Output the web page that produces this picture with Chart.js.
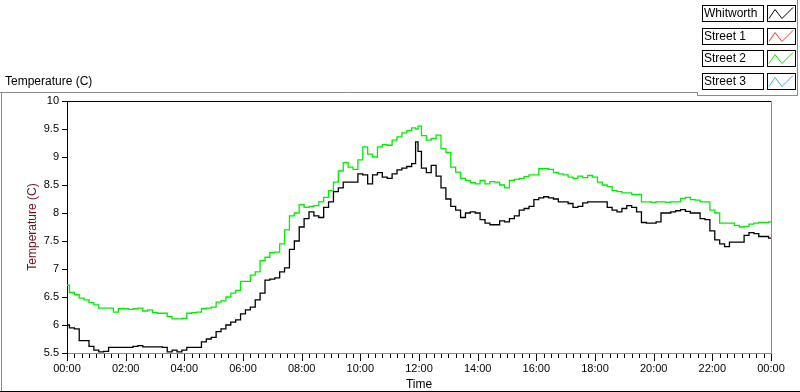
<!DOCTYPE html>
<html>
<head>
<meta charset="utf-8">
<script src="https://cdn.jsdelivr.net/npm/chart.js@4.4.1/dist/chart.umd.min.js"></script>
<style>
  html, body { margin: 0; padding: 0; background: #fff; }
  #wrap { width: 800px; height: 392px; }
</style>
</head>
<body>
<div id="wrap"><canvas id="c" width="800" height="392"></canvas></div>
<script>
// Time of day in minutes after midnight
const times = [0,10,20,30,40,50,60,70,80,90,100,110,120,130,140,150,160,170,180,190,200,210,220,230,240,250,260,270,280,290,300,310,320,330,340,350,360,370,380,390,400,410,420,430,440,450,460,470,480,490,500,510,520,530,540,550,560,570,580,590,600,610,620,630,640,650,660,670,680,690,700,710,716,720,730,740,750,760,770,780,790,800,810,820,830,840,850,860,870,880,890,900,910,920,930,940,950,960,970,980,990,1000,1010,1020,1030,1040,1050,1060,1070,1080,1090,1100,1110,1120,1130,1140,1150,1160,1170,1180,1190,1200,1210,1220,1230,1240,1250,1260,1270,1280,1290,1300,1310,1320,1330,1340,1350,1360,1370,1380,1390,1400,1410,1420,1430,1440];

const whitworth = [6.0,5.95,5.93,5.72,5.72,5.62,5.55,5.52,5.53,5.6,5.6,5.6,5.6,5.6,5.62,5.63,5.61,5.61,5.61,5.61,5.6,5.52,5.55,5.52,5.55,5.6,5.6,5.6,5.7,5.75,5.78,5.88,5.93,6.0,6.05,6.09,6.2,6.27,6.32,6.45,6.57,6.8,6.82,6.84,6.95,7.02,7.35,7.5,7.75,7.9,8.02,7.95,7.92,8.1,8.2,8.38,8.45,8.55,8.55,8.55,8.7,8.68,8.52,8.68,8.72,8.64,8.62,8.7,8.77,8.8,8.83,8.88,9.27,9.1,8.8,8.72,8.85,8.66,8.45,8.25,8.12,8.05,7.92,8.0,8.02,8.0,7.88,7.82,7.79,7.79,7.86,7.84,7.9,7.95,8.05,8.08,8.12,8.24,8.27,8.29,8.27,8.25,8.2,8.2,8.17,8.1,8.12,8.18,8.2,8.2,8.2,8.2,8.1,8.05,8.02,8.08,8.13,8.1,8.02,7.83,7.82,7.82,7.84,8.0,8.0,8.02,8.04,8.06,8.03,8.0,8.0,7.9,7.88,7.68,7.52,7.45,7.4,7.48,7.48,7.48,7.6,7.65,7.63,7.58,7.58,7.55];

const street1 = [];

const street2 = [6.71,6.58,6.54,6.48,6.45,6.4,6.36,6.3,6.3,6.3,6.23,6.29,6.29,6.28,6.29,6.3,6.25,6.27,6.22,6.21,6.21,6.15,6.11,6.11,6.12,6.21,6.22,6.23,6.29,6.3,6.32,6.41,6.43,6.5,6.57,6.62,6.78,6.78,6.89,6.95,7.15,7.21,7.29,7.3,7.45,7.7,7.95,8.0,8.15,8.1,8.12,8.13,8.2,8.28,8.4,8.55,8.75,8.9,8.82,8.78,8.95,9.18,9.05,9.0,9.18,9.22,9.21,9.3,9.36,9.43,9.47,9.52,9.5,9.55,9.38,9.3,9.33,9.39,9.15,9.08,8.82,8.73,8.62,8.58,8.54,8.52,8.58,8.52,8.56,8.55,8.5,8.45,8.58,8.6,8.62,8.65,8.68,8.68,8.79,8.79,8.78,8.72,8.7,8.68,8.64,8.62,8.66,8.63,8.67,8.64,8.55,8.5,8.47,8.4,8.38,8.36,8.36,8.33,8.33,8.2,8.2,8.19,8.2,8.2,8.19,8.2,8.2,8.26,8.28,8.24,8.23,8.2,8.2,8.05,8.0,7.82,7.82,7.82,7.78,7.75,7.76,7.8,7.82,7.83,7.83,7.84];

const street3 = [];

const seriesNames = ['Whitworth', 'Street 1', 'Street 2', 'Street 3'];
const seriesColors = ['#000000', '#ff3333', '#00ee00', '#33aaff'];
const seriesValues = [whitworth, street1, street2, street3];

const yTickValues = [5.5, 6, 6.5, 7, 7.5, 8, 8.5, 9, 9.5, 10];
const xMajorStep = 120;   // minutes between labelled ticks
const xMinorStep = 15;    // minutes between minor ticks

function fmtTime(m) {
  const h = Math.floor((m % 1440) / 60);
  const mm = Math.round(m % 60);
  return String(h).padStart(2, '0') + ':' + String(mm).padStart(2, '0');
}

const FONT = 'Liberation Sans, Arial, sans-serif';

const datasets = seriesNames.map((name, i) => ({
  label: name,
  data: seriesValues[i].map((v, k) => ({ x: times[k], y: v })),
  borderColor: seriesColors[i],
  backgroundColor: seriesColors[i],
  borderWidth: 1.3,
  pointRadius: 0,
  stepped: 'middle',
  fill: false
}));

const framePlugin = {
  id: 'frame',
  beforeDraw(chart) {
    const ctx = chart.ctx;
    ctx.save();
    ctx.fillStyle = '#fff';
    ctx.fillRect(0, 0, chart.width, chart.height);
    ctx.restore();
  },
  afterDraw(chart) {
    const ctx = chart.ctx;
    const a = chart.chartArea;
    const xs = chart.scales.x;
    ctx.save();
    // outer panel frame
    ctx.strokeStyle = '#8a8a8a';
    ctx.lineWidth = 1;
    ctx.beginPath();
    ctx.moveTo(0, 92.5); ctx.lineTo(697, 92.5);
    ctx.moveTo(1.5, 92); ctx.lineTo(1.5, 392);
    ctx.stroke();
    ctx.strokeStyle = '#000';
    ctx.beginPath();
    ctx.moveTo(0, 391.5); ctx.lineTo(800, 391.5);
    ctx.stroke();
    // legend panel frame
    ctx.strokeStyle = '#8a8a8a';
    ctx.beginPath();
    ctx.moveTo(697, 95.5); ctx.lineTo(797.5, 95.5);
    ctx.moveTo(797.5, 0); ctx.lineTo(797.5, 96);
    ctx.moveTo(697.5, 92); ctx.lineTo(697.5, 96);
    ctx.stroke();
    // plot frame: top black, right grey
    ctx.strokeStyle = '#000';
    ctx.beginPath();
    ctx.moveTo(a.left, a.top + 0.5); ctx.lineTo(a.right, a.top + 0.5);
    ctx.stroke();
    ctx.strokeStyle = '#8a8a8a';
    ctx.beginPath();
    ctx.moveTo(a.right + 0.5, a.top); ctx.lineTo(a.right + 0.5, a.bottom);
    ctx.stroke();
    // x ticks
    ctx.strokeStyle = '#000';
    ctx.beginPath();
    for (let m = xs.min; m <= xs.max; m += xMinorStep) {
      const px = Math.round(xs.getPixelForValue(m)) + 0.5;
      const len = (m % xMajorStep === 0) ? 7 : 4;
      ctx.moveTo(px, a.bottom + 1); ctx.lineTo(px, a.bottom + 1 + len);
    }
    ctx.stroke();
    // top-left label
    ctx.fillStyle = '#000';
    ctx.font = '12px ' + FONT;
    ctx.textBaseline = 'middle';
    ctx.textAlign = 'left';
    ctx.fillText('Temperature (C)', 5, 82);
    ctx.restore();
  }
};

const legendPlugin = {
  id: 'boxLegend',
  afterDraw(chart) {
    const ctx = chart.ctx;
    ctx.save();
    chart.data.datasets.forEach((ds, i) => {
      const top = Math.round(5 + i * 22.7) + 0.5;
      const h = 16;
      ctx.fillStyle = '#fff';
      ctx.strokeStyle = '#000';
      ctx.lineWidth = 1;
      ctx.fillRect(702, top, 61, h);
      ctx.strokeRect(702.5, top, 61, h);
      ctx.strokeRect(767.5, top, 28, h);
      ctx.fillStyle = '#000';
      ctx.font = '12px ' + FONT;
      ctx.textBaseline = 'middle';
      ctx.textAlign = 'left';
      ctx.fillText(ds.label, 704, top + h / 2 + 0.5);
      ctx.strokeStyle = ds.borderColor;
      ctx.beginPath();
      ctx.moveTo(769, top + 13);
      ctx.lineTo(775, top + 4);
      ctx.lineTo(782, top + 13);
      ctx.lineTo(793, top + 2);
      ctx.stroke();
    });
    ctx.restore();
  }
};

new Chart(document.getElementById('c'), {
  type: 'line',
  data: { datasets },
  options: {
    responsive: false,
    animation: false,
    events: [],
    layout: { padding: { top: 101, right: 29, left: 0, bottom: 0 } },
    plugins: { legend: { display: false }, tooltip: { enabled: false } },
    scales: {
      x: {
        type: 'linear',
        min: 0,
        max: 1440,
        afterFit(s) { s.height = 39; },
        afterBuildTicks(s) { s.ticks = []; for (let m = 0; m <= 1440; m += xMajorStep) s.ticks.push({ value: m }); },
        ticks: {
          autoSkip: false,
          maxRotation: 0,
          padding: 9,
          color: '#000',
          font: { family: FONT, size: 11 },
          callback: (v) => fmtTime(v)
        },
        grid: { drawOnChartArea: false, drawTicks: false },
        border: { display: true, color: '#8a8a8a', width: 1 },
        title: { display: true, text: 'Time', color: '#000', font: { family: FONT, size: 12 }, padding: { top: 0, bottom: 0 } }
      },
      y: {
        min: 5.5,
        max: 10,
        afterFit(s) { s.width = 67; },
        afterBuildTicks(s) { s.ticks = yTickValues.map(v => ({ value: v })); },
        ticks: {
          padding: 3,
          color: '#000',
          font: { family: FONT, size: 11 },
          callback: (v) => String(v)
        },
        grid: { drawOnChartArea: false, drawTicks: true, tickLength: 5, color: '#000' },
        border: { display: true, color: '#000', width: 1 },
        title: { display: true, text: 'Temperature (C)', color: '#6b0f1a', font: { family: FONT, size: 12 }, padding: { top: 25, bottom: 0 } }
      }
    }
  },
  plugins: [framePlugin, legendPlugin]
});
</script>
</body>
</html>
